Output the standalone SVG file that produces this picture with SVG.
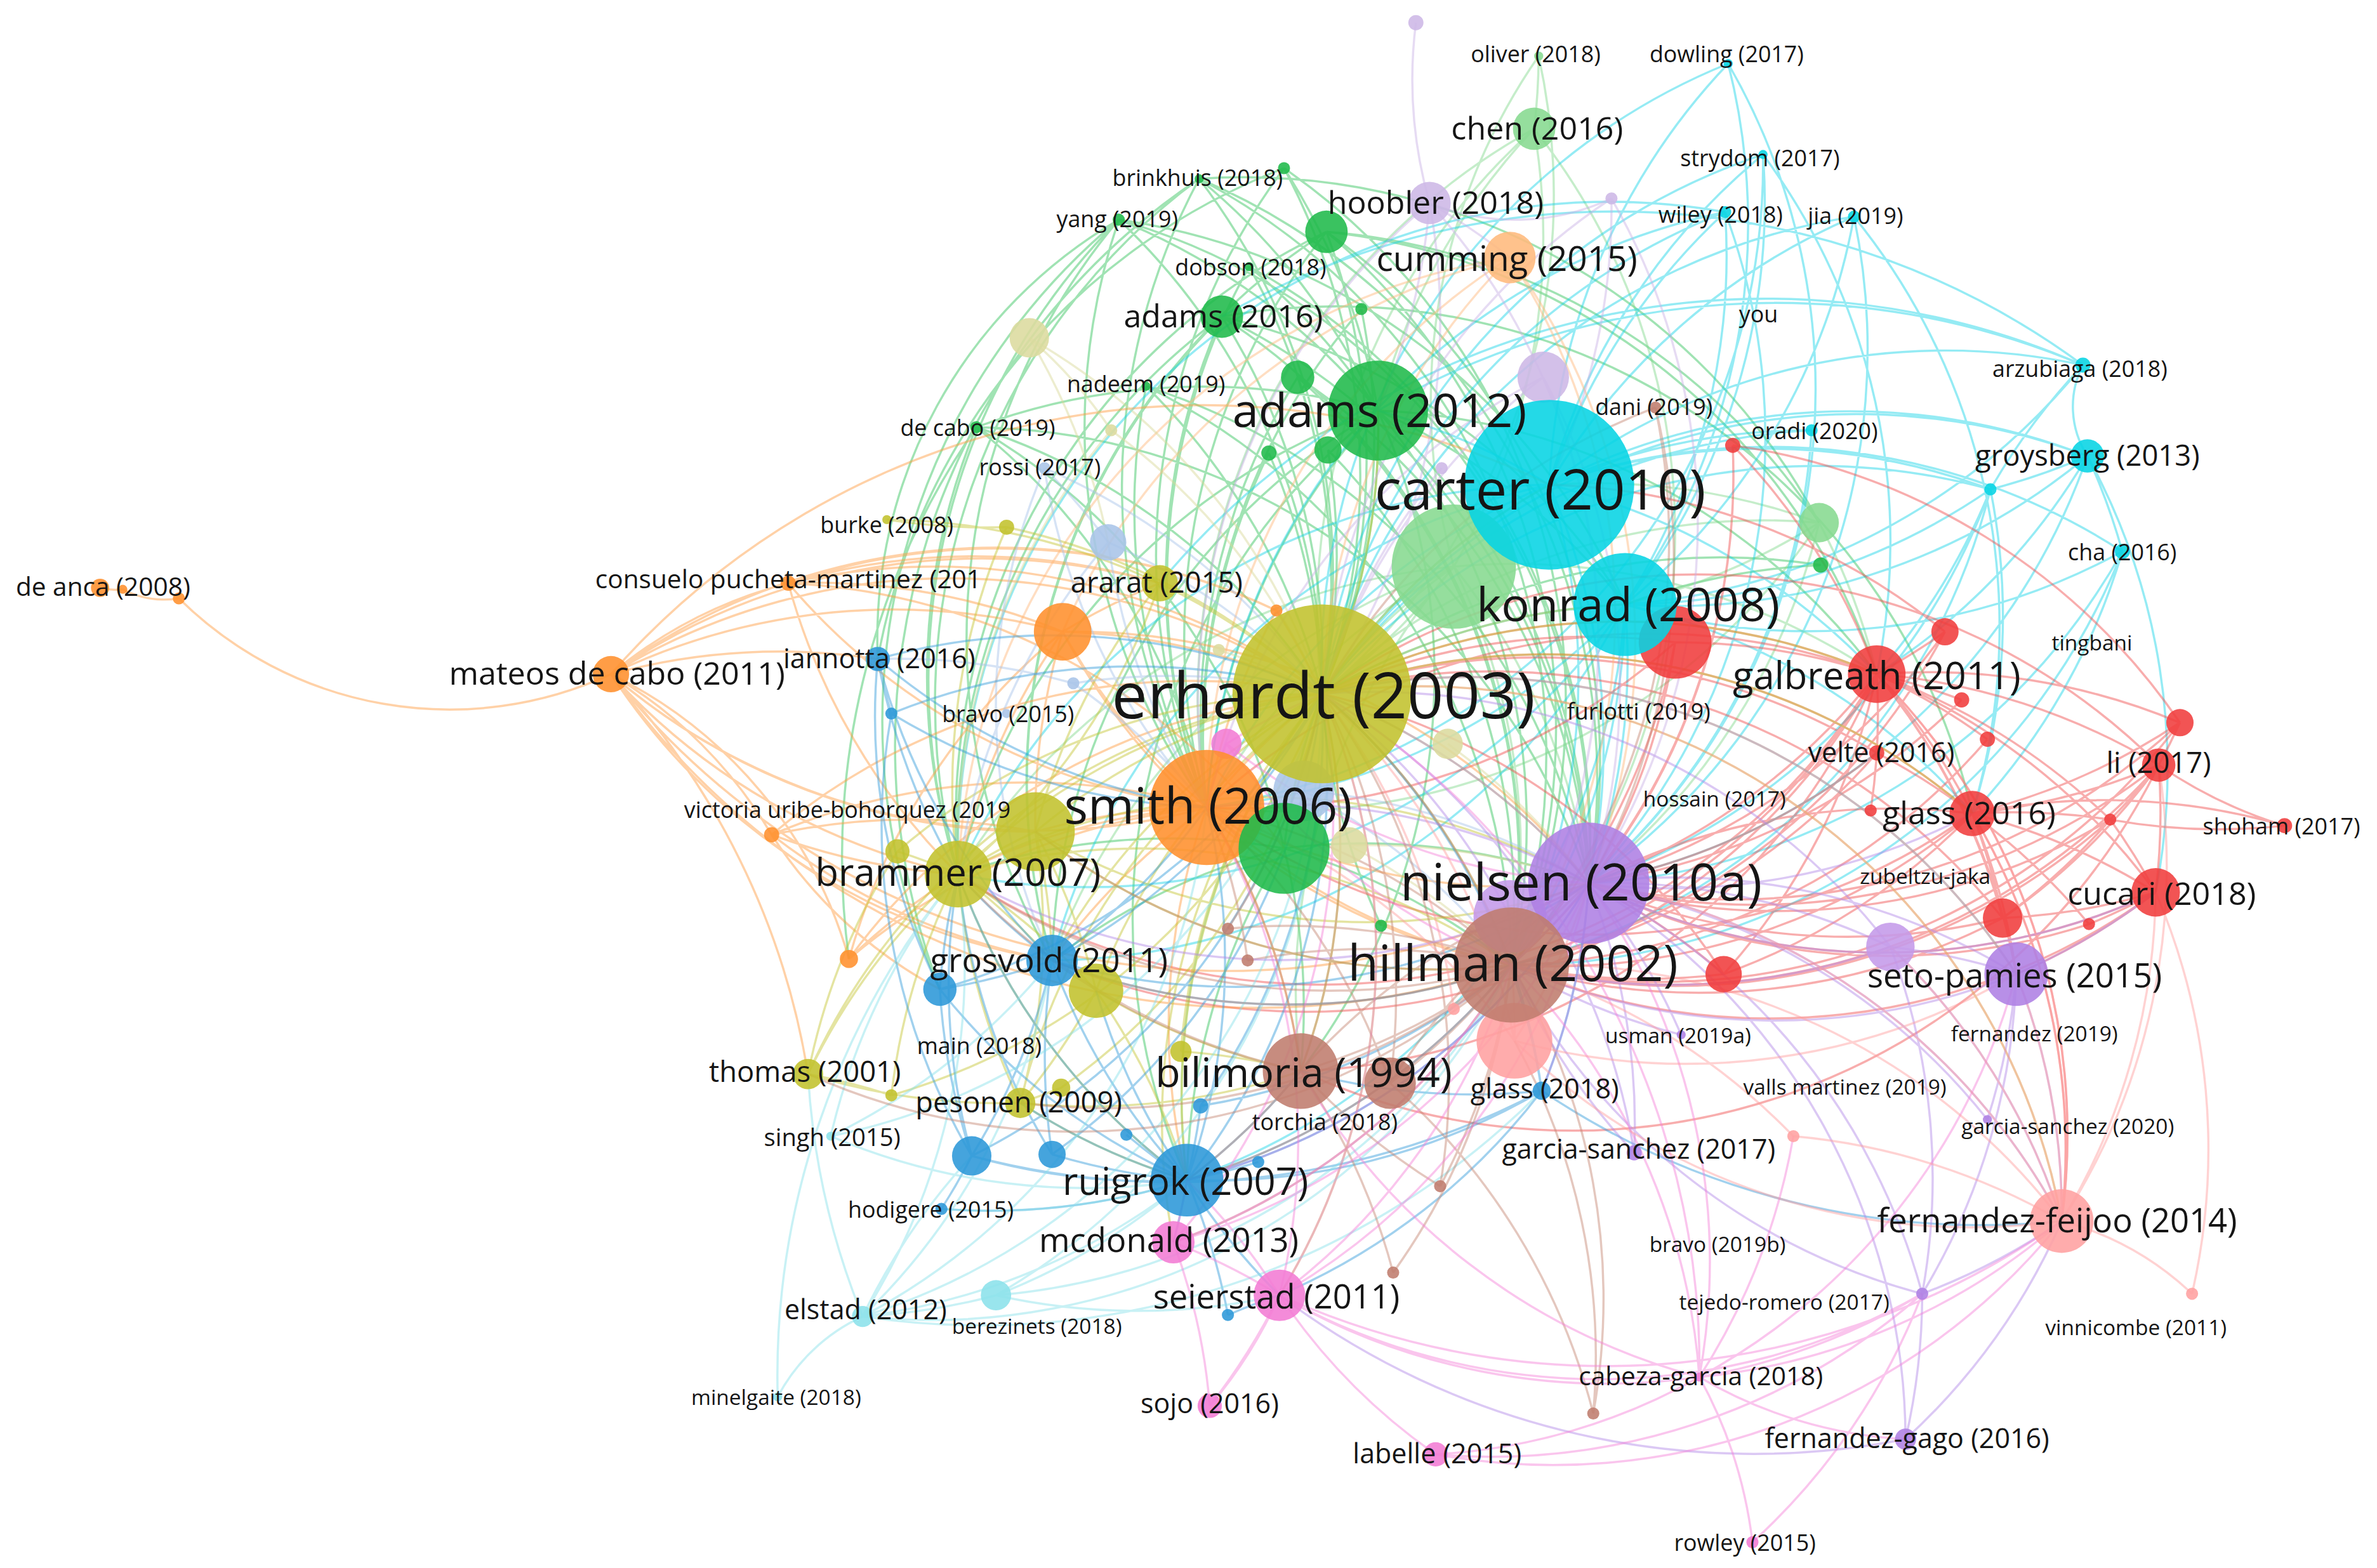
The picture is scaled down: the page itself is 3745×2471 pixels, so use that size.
<svg xmlns="http://www.w3.org/2000/svg" width="3745" height="2471" viewBox="0 0 3745 2471">
<style>
.e path{fill:none;stroke-width:1.45;stroke-opacity:.45}
.nd circle{fill-opacity:.88}
text{font-family:"Open Sans","Noto Sans","DejaVu Sans",sans-serif;fill:#151515;text-anchor:middle;dominant-baseline:central}
.r{fill:#f03c3c}.g{fill:#1fba4a}.c{fill:#06d4e4}.y{fill:#c1c22c}.o{fill:#ff8f2c}.p{fill:#ae7fe4}.b{fill:#bf7c6d}.k{fill:#f27bd4}.u{fill:#2b97d8}.lg{fill:#86d98f}.lp{fill:#cdb7e6}.lo{fill:#ffba7c}.ls{fill:#ffa0a0}.lc{fill:#8be1ea}.ly{fill:#dcdb9e}.lb{fill:#a9c4e8}.pl{fill:#c49ae9}
</style>
<rect width="3745" height="2471" fill="#fff"/>
<g transform="scale(2.3884 2.3874)">
<g id="connectors" class="e">
<path stroke="#2cc257" d="M909 271A430 430 0 0 1 872 458M909 271A430 430 0 0 0 796 533M909 271A430 430 0 0 1 1048 583M909 271A430 430 0 0 1 997 637M909 271A430 430 0 0 0 632 577M909 271A430 430 0 0 0 694 634M909 271A430 430 0 0 0 783 779M909 271A430 430 0 0 1 858 707M909 271A430 430 0 0 1 1238 445M909 271A430 430 0 0 1 1072 399M806 209A430 430 0 0 1 872 458M806 209A430 430 0 0 0 796 533M806 209A430 430 0 0 1 997 637M806 209A430 430 0 0 0 632 577M806 209A430 430 0 0 1 1048 583M806 209A430 430 0 0 1 1072 399M806 209A430 430 0 0 0 694 634M806 209A430 430 0 0 1 1301 537M847 111A430 430 0 0 1 872 458M847 111A430 430 0 0 0 796 533M847 111A430 430 0 0 1 909 271M847 111A430 430 0 0 1 997 637M847 111A430 430 0 0 0 579 435M791 118A430 430 0 0 1 872 458M791 118A430 430 0 0 0 796 533M791 118A430 430 0 0 1 909 271M791 118A430 430 0 0 0 632 577M791 118A430 430 0 0 1 997 637M791 118A430 430 0 0 1 1048 583M791 118A450 450 0 0 0 620 653M791 118A430 430 0 0 1 1200 345M738 145A430 430 0 0 1 872 458M738 145A430 430 0 0 0 796 533M738 145A430 430 0 0 0 632 577M738 145A430 430 0 0 1 909 271M738 145A430 430 0 0 0 694 634M738 145A430 430 0 0 1 1048 583M738 145A320 320 0 0 0 579 435M738 145A430 430 0 0 1 1072 399M738 145A430 430 0 0 0 620 653M644 282A430 430 0 0 1 872 458M644 282A430 430 0 0 1 796 533M644 282A430 430 0 0 0 632 577M644 282A430 430 0 0 1 847 560M644 282A430 430 0 0 1 909 271M644 282A430 430 0 0 1 1048 583M644 282A500 500 0 0 0 560 633M756 255A430 430 0 0 1 872 458M756 255A430 430 0 0 0 796 533M756 255A430 430 0 0 1 997 637M756 255A430 430 0 0 1 1048 583M824 176A430 430 0 0 1 872 458M824 176A430 430 0 0 0 796 533M824 176A430 430 0 0 1 1048 583M824 176A430 430 0 0 1 909 271M875 153A430 430 0 0 1 872 458M875 153A430 430 0 0 0 796 533M875 153A430 430 0 0 1 997 637M875 153A430 430 0 0 1 1048 583M875 153A430 430 0 0 0 632 577M875 153A430 430 0 0 1 1238 445M875 153A430 430 0 0 1 1200 345M875 153A430 430 0 0 0 694 634M856 249A430 430 0 0 1 872 458M856 249A430 430 0 0 0 796 533M856 249A430 430 0 0 1 1048 583M856 249A430 430 0 0 1 997 637M837 299A430 430 0 0 1 872 458M837 299A430 430 0 0 0 796 533M876 297A430 430 0 0 1 872 458M876 297A430 430 0 0 1 997 637M898 204A430 430 0 0 1 872 458M898 204A430 430 0 0 0 796 533M847 560A430 430 0 0 1 872 458M847 560A430 430 0 0 1 997 637M847 560A430 430 0 0 1 1048 583M847 560A430 430 0 0 0 694 634M847 560A430 430 0 0 1 858 707M847 560A430 430 0 0 0 783 779M847 560A430 430 0 0 0 632 577M911 611A430 430 0 0 1 872 458M1201 373A430 430 0 0 0 872 458M1201 373A430 430 0 0 0 1072 399"/>
<path stroke="#7fd88a" d="M959 374A430 430 0 0 1 872 458M959 374A430 430 0 0 0 796 533M959 374A430 430 0 0 1 1048 583M959 374A430 430 0 0 1 997 637M959 374A430 430 0 0 0 632 577M959 374A430 430 0 0 1 1238 445M959 374A430 430 0 0 0 858 707M959 374A430 430 0 0 0 694 634M959 374A430 430 0 0 0 783 779M1012 85A430 430 0 0 0 872 458M1012 85A430 430 0 0 1 959 374M1012 85A430 430 0 0 0 796 533M1012 85A430 430 0 0 0 909 271M1012 85A430 430 0 0 1 997 637M1015 37A430 430 0 0 1 1012 85M1015 37A400 400 0 0 0 959 374M1015 37A430 430 0 0 1 872 458M1200 345A430 430 0 0 0 872 458M1200 345A430 430 0 0 1 1072 399M1200 345A430 430 0 0 0 1022 320M1200 345A430 430 0 0 1 1238 445M1200 345A430 430 0 0 1 796 533M1200 345A430 430 0 0 1 1048 583"/>
<path stroke="#14d2e6" d="M1022 320A430 430 0 0 1 1140 42M1022 320A430 430 0 0 1 1163 102M1022 320A430 430 0 0 1 1138 140M1022 320A430 430 0 0 1 1223 143M1022 320A430 430 0 0 1 1374 241M1022 320A430 430 0 0 1 1377 301M1022 320A430 430 0 0 1 1400 364M1022 320A430 430 0 0 1 1195 284M1022 320A430 430 0 0 1 1313 323M1022 320A430 430 0 0 0 872 458M1022 320A430 430 0 0 0 796 533M1022 320A430 430 0 0 1 1048 583M1022 320A430 430 0 0 1 997 637M1022 320A430 430 0 0 0 909 271M1022 320A430 430 0 0 1 1238 445M1022 320A430 430 0 0 0 632 577M1022 320A430 430 0 0 0 694 634M1072 399A430 430 0 0 0 1140 42M1072 399A430 430 0 0 0 1163 102M1072 399A430 430 0 0 0 1138 140M1072 399A430 430 0 0 0 1223 143M1072 399A430 430 0 0 0 1374 241M1072 399A430 430 0 0 0 1377 301M1072 399A430 430 0 0 0 1400 364M1072 399A430 430 0 0 0 1313 323M1072 399A430 430 0 0 0 872 458M1072 399A430 430 0 0 1 796 533M1072 399A430 430 0 0 1 1048 583M1072 399A430 430 0 0 1 997 637M1072 399A430 430 0 0 1 1301 537M1072 399A430 430 0 0 1 694 634M1072 399A430 430 0 0 1 632 577M1072 399A430 430 0 0 1 783 779M1163 102A430 430 0 0 0 872 458M1163 102A430 430 0 0 1 796 533M1163 102A430 430 0 0 1 1238 445M1138 140A430 430 0 0 0 872 458M1138 140A430 430 0 0 0 796 533M1138 140A430 430 0 0 1 1048 583M1138 140A430 430 0 0 0 632 577M1223 143A430 430 0 0 0 872 458M1223 143A430 430 0 0 1 1048 583M1223 143A430 430 0 0 1 1301 537M1140 42A430 430 0 0 0 872 458M1140 42A430 430 0 0 1 1048 583M1374 241A60 60 0 0 0 1377 301M1374 241A430 430 0 0 0 1313 323M1374 241A520 520 0 0 0 765 385M1374 241A520 520 0 0 0 806 209M1374 241A520 520 0 0 0 909 271M1377 301A430 430 0 0 0 872 458M1377 301A430 430 0 0 1 1048 583M1377 301A430 430 0 0 1 1238 445M1377 301A430 430 0 0 1 1313 323M1377 301A430 430 0 0 1 1400 364M1377 301A430 430 0 0 1 1422 589M1313 323A430 430 0 0 0 872 458M1313 323A430 430 0 0 1 1048 583M1313 323A430 430 0 0 1 1301 537M1313 323A430 430 0 0 1 997 637M1313 323A430 430 0 0 1 1238 445M1400 364A430 430 0 0 1 1048 583M1400 364A430 430 0 0 1 1301 537M1400 364A430 430 0 0 1 997 637M1195 284A430 430 0 0 0 872 458M1195 284A430 430 0 0 1 1048 583"/>
<path stroke="#f04a4a" d="M1238 445A430 430 0 0 0 872 458M1238 445A430 430 0 0 1 1048 583M1238 445A430 430 0 0 1 997 637M1238 445A430 430 0 0 0 796 533M1238 445A430 430 0 0 1 1301 537M1238 445A430 430 0 0 1 1424 505M1238 445A430 430 0 0 1 1422 589M1238 445A430 430 0 0 1 1330 643M1238 445A430 430 0 0 0 1105 424M1238 445A430 430 0 0 0 1283 417M1238 445A430 430 0 0 1 1438 477M1238 445A430 430 0 0 1 1392 541M1238 445A430 430 0 0 1 1311 488M1238 445A430 430 0 0 1 1294 462M1238 445A430 430 0 0 1 1321 606M1238 445A430 430 0 0 1 1234 535M1238 445A430 430 0 0 1 858 707M1238 445A430 430 0 0 1 1360 806M1238 445A430 430 0 0 1 632 577M1238 445A430 430 0 0 1 694 634M1301 537A430 430 0 0 0 1048 583M1301 537A430 430 0 0 1 997 637M1301 537A430 430 0 0 0 872 458M1301 537A430 430 0 0 0 1424 505M1301 537A430 430 0 0 1 1422 589M1301 537A430 430 0 0 1 1321 606M1301 537A430 430 0 0 1 1378 610M1301 537A430 430 0 0 0 1438 477M1301 537A430 430 0 0 1 1392 541M1301 537A430 430 0 0 0 1238 497M1301 537A430 430 0 0 1 1330 643M1301 537A430 430 0 0 1 1360 806M1301 537A430 430 0 0 1 796 533M1424 505A430 430 0 0 1 1422 589M1424 505A430 430 0 0 0 1438 477M1424 505A430 430 0 0 1 1392 541M1424 505A430 430 0 0 1 1048 583M1424 505A430 430 0 0 1 997 637M1424 505A300 300 0 0 0 1507 545M1424 505A430 430 0 0 1 1321 606M1424 505A430 430 0 0 0 872 458M1424 505A430 430 0 0 1 858 707M1422 589A430 430 0 0 1 1048 583M1422 589A430 430 0 0 1 997 637M1422 589A430 430 0 0 1 1321 606M1422 589A430 430 0 0 1 1378 610M1422 589A430 430 0 0 0 1392 541M1422 589A430 430 0 0 1 1330 643M1321 606A430 430 0 0 1 1048 583M1321 606A430 430 0 0 1 997 637M1321 606A430 430 0 0 0 872 458M1321 606A430 430 0 0 0 1392 541M1105 424A430 430 0 0 0 872 458M1105 424A430 430 0 0 1 1048 583M1105 424A430 430 0 0 1 997 637M1105 424A430 430 0 0 1 796 533M1137 643A430 430 0 0 0 1048 583M1137 643A430 430 0 0 1 997 637M1137 643A430 430 0 0 0 872 458M1137 643A430 430 0 0 0 1301 537M1137 643A430 430 0 0 0 1238 445M1143 294A430 430 0 0 1 997 637M1143 294A430 430 0 0 1 1048 583M1143 294A430 430 0 0 1 1238 445M1143 294A430 430 0 0 1 1438 477M1283 417A430 430 0 0 1 997 637M1283 417A430 430 0 0 1 1048 583M1283 417A430 430 0 0 0 1022 320M1438 477A430 430 0 0 1 1048 583M1438 477A430 430 0 0 1 997 637M1507 545A400 400 0 0 1 1392 541M1507 545A430 430 0 0 0 1301 537M1238 497A430 430 0 0 1 1048 583M1238 497A430 430 0 0 1 997 637M1238 497A430 430 0 0 0 872 458M1392 541A430 430 0 0 1 1048 583M1392 541A430 430 0 0 1 997 637M1294 462A430 430 0 0 1 1048 583M1311 488A430 430 0 0 1 997 637M1378 610A430 430 0 0 1 1048 583"/>
<path stroke="#ff9a3c" d="M403 445A430 430 0 0 1 872 458M403 445A430 430 0 0 0 796 533M403 445A430 430 0 0 0 632 577M403 445A430 430 0 0 1 701 417M403 445A430 430 0 0 1 579 435M403 445A300 300 0 0 1 509 551M403 445A300 300 0 0 1 560 633M118 395A254 254 0 0 0 403 445M66 388A40 40 0 0 0 81 389M81 389A60 60 0 0 0 118 395M403 445A520 520 0 0 1 1022 320M403 445A520 520 0 0 0 1048 583M403 445A520 520 0 0 0 997 637M403 445A430 430 0 0 1 765 385M403 445A300 300 0 0 1 520 385M403 445A430 430 0 0 0 683 549M403 445A430 430 0 0 0 694 634M403 445A430 430 0 0 1 842 403M403 445A500 500 0 0 1 533 709M520 385A430 430 0 0 1 872 458M520 385A430 430 0 0 0 796 533M520 385A430 430 0 0 1 701 417M520 385A430 430 0 0 1 765 385M520 385A430 430 0 0 0 632 577M520 385A430 430 0 0 1 847 560M520 385A430 430 0 0 1 842 403M701 417A430 430 0 0 1 872 458M701 417A430 430 0 0 0 796 533M701 417A430 430 0 0 0 632 577M701 417A430 430 0 0 1 765 385M701 417A430 430 0 0 0 683 549M701 417A430 430 0 0 1 1048 583M701 417A430 430 0 0 0 997 637M509 551A430 430 0 0 1 796 533M509 551A430 430 0 0 1 872 458M509 551A430 430 0 0 0 632 577M509 551A430 430 0 0 1 683 549M509 551A430 430 0 0 0 694 634M509 551A300 300 0 0 0 620 653M560 633A430 430 0 0 1 796 533M560 633A430 430 0 0 1 632 577M560 633A430 430 0 0 1 701 417M560 633A430 430 0 0 1 872 458M796 533A430 430 0 0 1 872 458M796 533A430 430 0 0 0 1048 583M796 533A430 430 0 0 0 997 637M796 533A430 430 0 0 0 632 577M796 533A430 430 0 0 0 683 549M796 533A430 430 0 0 0 694 634M796 533A430 430 0 0 1 858 707M796 533A430 430 0 0 0 783 779M842 403A430 430 0 0 1 872 458M842 403A430 430 0 0 0 796 533"/>
<path stroke="#ffb677" d="M996 170A430 430 0 0 0 872 458M996 170A430 430 0 0 0 796 533M996 170A430 430 0 0 1 1048 583M996 170A430 430 0 0 1 997 637M996 170A430 430 0 0 0 632 577M996 170A430 430 0 0 0 701 417"/>
<path stroke="#c3c42e" d="M872 458A430 430 0 0 0 632 577M872 458A430 430 0 0 0 683 549M872 458A430 430 0 0 0 765 385M872 458A430 430 0 0 0 673 728M872 458A430 430 0 0 0 533 709M872 458A430 430 0 0 0 723 654M872 458A430 430 0 0 0 592 562M872 458A430 430 0 0 0 664 348M872 458A430 430 0 0 0 585 343M872 458A430 430 0 0 1 1048 583M872 458A430 430 0 0 1 997 637M872 458A430 430 0 0 1 858 707M872 458A430 430 0 0 0 783 779M872 458A430 430 0 0 0 694 634M872 458A430 430 0 0 1 1022 320M872 458A430 430 0 0 1 1072 399M872 458A430 430 0 0 1 1238 445M872 458A430 430 0 0 1 1301 537M872 458A430 430 0 0 1 1330 643M872 458A430 430 0 0 1 1360 806M872 458A430 430 0 0 0 909 271M872 458A430 430 0 0 0 774 820M872 458A430 430 0 0 1 844 855M872 458A430 430 0 0 0 779 694M632 577A430 430 0 0 1 683 549M632 577A430 430 0 0 0 533 709M632 577A430 430 0 0 0 673 728M632 577A430 430 0 0 1 723 654M632 577A430 430 0 0 0 592 562M632 577A430 430 0 0 1 694 634M632 577A430 430 0 0 0 783 779M632 577A430 430 0 0 0 588 723M632 577A430 430 0 0 1 997 637M632 577A430 430 0 0 1 1048 583M683 549A430 430 0 0 1 694 634M683 549A430 430 0 0 1 673 728M683 549A430 430 0 0 0 997 637M683 549A430 430 0 0 0 1048 583M683 549A430 430 0 0 1 723 654M723 654A430 430 0 0 1 673 728M723 654A430 430 0 0 1 783 779M723 654A430 430 0 0 0 858 707M533 709A430 430 0 0 1 588 723M533 709A430 430 0 0 0 673 728M533 709A430 430 0 0 1 592 562M673 728A430 430 0 0 0 700 718M673 728A430 430 0 0 0 783 779M673 728A430 430 0 0 0 858 707M765 385A430 430 0 0 1 632 577M765 385A430 430 0 0 0 683 549M664 348A430 430 0 0 0 632 577M664 348A430 430 0 0 1 585 343M779 694A430 430 0 0 1 858 707M700 718A430 430 0 0 0 872 458M588 723A430 430 0 0 0 872 458"/>
<path stroke="#d8d794" d="M679 223A300 300 0 0 1 733 284M679 223A430 430 0 0 1 872 458M679 223A430 430 0 0 1 731 358M733 284A430 430 0 0 1 872 458M733 284A430 430 0 0 0 632 577M955 491A430 430 0 0 1 1048 583M890 558A430 430 0 0 1 997 637M890 558A430 430 0 0 1 1048 583M804 429A430 430 0 0 1 872 458"/>
<path stroke="#a3c0e8" d="M731 358A430 430 0 0 1 872 458M731 358A430 430 0 0 0 796 533M731 358A430 430 0 0 0 632 577M689 309A430 430 0 0 1 731 358M689 309A430 430 0 0 1 872 458M689 309A430 430 0 0 0 796 533M860 522A430 430 0 0 1 997 637M860 522A430 430 0 0 1 1048 583M708 451A430 430 0 0 1 872 458M708 451A430 430 0 0 0 579 435M708 451A430 430 0 0 1 796 533M689 309A400 400 0 0 0 694 634"/>
<path stroke="#2e9ad9" d="M783 779A430 430 0 0 1 694 634M783 779A430 430 0 0 1 632 577M783 779A430 430 0 0 1 641 763M783 779A430 430 0 0 1 694 762M783 779A430 430 0 0 1 620 653M783 779A430 430 0 0 0 872 458M783 779A430 430 0 0 0 796 533M783 779A430 430 0 0 0 997 637M783 779A430 430 0 0 0 858 707M783 779A430 430 0 0 0 1048 583M783 779A430 430 0 0 0 1017 720M783 779A430 430 0 0 1 774 820M783 779A430 430 0 0 0 844 855M783 779A430 430 0 0 1 743 749M783 779A430 430 0 0 0 792 730M783 779A430 430 0 0 0 830 767M783 779A430 430 0 0 1 621 798M783 779A430 430 0 0 1 723 654M783 779A430 430 0 0 1 673 728M694 634A430 430 0 0 1 620 653M694 634A430 430 0 0 0 872 458M694 634A430 430 0 0 0 796 533M694 634A430 430 0 0 0 997 637M694 634A430 430 0 0 1 632 577M694 634A430 430 0 0 1 579 435M694 634A430 430 0 0 1 641 763M694 634A430 430 0 0 0 694 762M694 634A430 430 0 0 0 1048 583M641 763A430 430 0 0 1 621 798M641 763A430 430 0 0 1 632 577M641 763A430 430 0 0 1 620 653M641 763A430 430 0 0 0 872 458M620 653A430 430 0 0 1 632 577M620 653A430 430 0 0 0 872 458M694 762A430 430 0 0 0 872 458M694 762A430 430 0 0 1 632 577M579 435A430 430 0 0 1 872 458M579 435A430 430 0 0 0 796 533M579 435A300 300 0 0 0 588 471M579 435A430 430 0 0 0 632 577M579 435A400 400 0 0 0 620 653M588 471A430 430 0 0 0 796 533M588 471A430 430 0 0 1 872 458M588 471A430 430 0 0 0 641 763M1017 720A430 430 0 0 0 997 637M1017 720A430 430 0 0 0 1048 583M1017 720A430 430 0 0 0 872 458M1017 720A430 430 0 0 1 858 707M1017 720A520 520 0 0 1 641 763M1017 720A430 430 0 0 1 844 855M810 868A430 430 0 0 0 783 779M810 868A430 430 0 0 1 844 855M792 730A430 430 0 0 0 872 458M792 730A430 430 0 0 0 997 637M1017 720A520 520 0 0 0 1360 806"/>
<path stroke="#86dfe8" d="M569 869A120 120 0 0 0 513 922M569 869A430 430 0 0 0 783 779M569 869A430 430 0 0 0 694 634M569 869A430 430 0 0 0 632 577M569 869A430 430 0 0 0 872 458M569 869A430 430 0 0 0 657 855M569 869A430 430 0 0 0 796 533M569 869A430 430 0 0 0 997 637M569 869A430 430 0 0 1 641 763M569 869A500 500 0 0 1 533 709M548 750A430 430 0 0 0 783 779M548 750A430 430 0 0 0 694 634M548 750A430 430 0 0 0 872 458M548 750A430 430 0 0 1 632 577M657 855A430 430 0 0 0 783 779M657 855A430 430 0 0 0 997 637M657 855A430 430 0 0 0 844 855M657 855A430 430 0 0 0 872 458M513 922A520 520 0 0 1 632 577M621 798A430 430 0 0 0 783 779M569 869A520 520 0 0 0 1017 720"/>
<path stroke="#c3826f" d="M997 637A430 430 0 0 0 872 458M997 637A430 430 0 0 0 796 533M997 637A430 430 0 0 1 1048 583M997 637A430 430 0 0 1 858 707M997 637A430 430 0 0 1 917 715M997 637A430 430 0 0 1 783 779M997 637A430 430 0 0 1 694 634M997 637A430 430 0 0 1 632 577M997 637A430 430 0 0 1 950 783M997 637A430 430 0 0 1 919 840M997 637A430 430 0 0 1 1051 933M997 637A430 430 0 0 0 823 634M997 637A430 430 0 0 0 810 613M997 637A430 430 0 0 0 1092 269M997 637A430 430 0 0 1 683 549M997 637A430 430 0 0 1 533 709M997 637A430 430 0 0 1 673 728M997 637A430 430 0 0 1 774 820M858 707A430 430 0 0 0 872 458M858 707A430 430 0 0 0 796 533M858 707A430 430 0 0 1 1048 583M858 707A430 430 0 0 1 632 577M858 707A430 430 0 0 1 694 634M858 707A430 430 0 0 1 783 779M858 707A430 430 0 0 1 919 840M858 707A430 430 0 0 0 950 783M917 715A430 430 0 0 0 872 458M917 715A430 430 0 0 1 1048 583M917 715A430 430 0 0 0 796 533M1051 933A430 430 0 0 0 999 687M1051 933A430 430 0 0 0 917 715M919 840A430 430 0 0 0 858 707M1092 269A430 430 0 0 1 1048 583M1092 269A430 430 0 0 0 872 458M950 783A430 430 0 0 0 872 458M810 613A430 430 0 0 0 872 458M823 634A430 430 0 0 0 796 533"/>
<path stroke="#b084e6" d="M1048 583A430 430 0 0 0 872 458M1048 583A430 430 0 0 0 796 533M1048 583A430 430 0 0 1 997 637M1048 583A430 430 0 0 1 1330 643M1048 583A430 430 0 0 1 1247 625M1048 583A430 430 0 0 1 1257 950M1048 583A430 430 0 0 1 1268 854M1048 583A430 430 0 0 1 1360 806M1048 583A430 430 0 0 0 1301 537M1048 583A430 430 0 0 0 1422 589M1048 583A430 430 0 0 1 632 577M1048 583A430 430 0 0 1 783 779M1048 583A430 430 0 0 1 1017 720M1048 583A430 430 0 0 1 1109 683M1048 583A430 430 0 0 1 1078 761M1048 583A430 430 0 0 1 1311 739M1330 643A430 430 0 0 1 997 637M1330 643A430 430 0 0 1 1360 806M1330 643A430 430 0 0 0 1422 589M1330 643A430 430 0 0 0 1247 625M1330 643A430 430 0 0 0 872 458M1330 643A430 430 0 0 1 1311 739M1330 643A430 430 0 0 1 1268 854M1247 625A430 430 0 0 1 997 637M1247 625A430 430 0 0 1 1360 806M1247 625A430 430 0 0 1 1268 854M1247 625A430 430 0 0 0 872 458M1257 950A430 430 0 0 0 1268 854M1257 950A430 430 0 0 0 1360 806M1257 950A520 520 0 0 1 844 855M1268 854A430 430 0 0 0 1360 806M1268 854A430 430 0 0 1 997 637M1078 761A430 430 0 0 1 997 637M1078 761A430 430 0 0 0 872 458M1109 683A430 430 0 0 1 997 637M996 605A430 430 0 0 0 872 458"/>
<path stroke="#c8b0e4" d="M943 134A430 430 0 0 1 872 458M943 134A430 430 0 0 0 796 533M943 134A300 300 0 0 1 934 15M943 134A150 150 0 0 0 1063 131M943 134A430 430 0 0 1 996 170M943 134A430 430 0 0 1 909 271M943 134A430 430 0 0 1 997 637M1063 131A430 430 0 0 1 1022 320M1063 131A430 430 0 0 0 872 458M1063 131A430 430 0 0 1 1048 583M1018 249A430 430 0 0 0 872 458M1018 249A430 430 0 0 0 796 533M1018 249A430 430 0 0 1 1048 583M1018 249A430 430 0 0 1 997 637M951 309A430 430 0 0 0 872 458"/>
<path stroke="#f47fd6" d="M844 855A430 430 0 0 0 774 820M844 855A430 430 0 0 0 783 779M844 855A430 430 0 0 0 997 637M844 855A430 430 0 0 0 1048 583M844 855A430 430 0 0 0 872 458M844 855A300 300 0 0 1 798 928M844 855A400 400 0 0 0 947 960M844 855A430 430 0 0 0 1121 909M844 855A430 430 0 0 0 1268 854M844 855A520 520 0 0 0 1360 806M844 855A430 430 0 0 0 796 533M774 820A430 430 0 0 0 783 779M774 820A430 430 0 0 0 997 637M774 820A430 430 0 0 0 872 458M774 820A400 400 0 0 1 798 928M774 820A430 430 0 0 0 1048 583M1121 909A300 300 0 0 1 1156 1018M1121 909A400 400 0 0 1 947 960M1121 909A430 430 0 0 0 1360 806M1121 909A430 430 0 0 0 1048 583M1121 909A430 430 0 0 0 997 637M1121 909A430 430 0 0 0 1268 854M1121 909A430 430 0 0 0 1330 643M1121 909A430 430 0 0 0 1183 750M1121 909A300 300 0 0 0 1257 950M1121 909A520 520 0 0 0 872 458M1121 909A430 430 0 0 1 858 707M947 960A430 430 0 0 0 1268 854M947 960A430 430 0 0 0 1360 806M1156 1018A430 430 0 0 0 1268 854M809 491A430 430 0 0 1 872 458M809 491A430 430 0 0 0 796 533M809 491A430 430 0 0 0 1048 583M809 491A430 430 0 0 0 997 637M798 928A430 430 0 0 0 844 855"/>
<path stroke="#ff9c9c" d="M999 687A430 430 0 0 0 997 637M999 687A430 430 0 0 0 1048 583M999 687A430 430 0 0 0 872 458M999 687A430 430 0 0 0 1360 806M999 687A430 430 0 0 0 1330 643M999 687A430 430 0 0 0 796 533M1360 806A430 430 0 0 0 1048 583M1360 806A430 430 0 0 0 997 637M1360 806A430 430 0 0 0 1422 589M1360 806A430 430 0 0 0 1330 643M1360 806A200 200 0 0 1 1446 854M1360 806A430 430 0 0 0 1301 537M1360 806A430 430 0 0 0 1247 625M1360 806A430 430 0 0 0 872 458M1360 806A430 430 0 0 0 1238 445M1360 806A430 430 0 0 0 1424 505M1446 854A430 430 0 0 0 1422 589M1183 750A430 430 0 0 0 997 637M1183 750A430 430 0 0 1 1360 806M959 666A430 430 0 0 0 872 458M959 666A430 430 0 0 1 997 637"/>
</g>
<g class="nd">
<g id="n-smallnodes">
<circle class="g" cx="875" cy="153" r="14"/><circle class="g" cx="806" cy="209" r="14"/><circle class="g" cx="856" cy="249" r="11"/><circle class="g" cx="876" cy="297" r="9"/><circle class="g" cx="837" cy="299" r="5"/><circle class="g" cx="898" cy="204" r="4"/><circle class="g" cx="847" cy="111" r="4"/><circle class="g" cx="791" cy="118" r="3"/><circle class="g" cx="738" cy="145" r="4"/><circle class="g" cx="824" cy="176" r="3"/><circle class="g" cx="756" cy="255" r="3"/><circle class="g" cx="644" cy="282" r="4"/><circle class="g" cx="911" cy="611" r="4"/><circle class="g" cx="1201" cy="373" r="5"/>
<circle class="lg" cx="1015" cy="37" r="3"/><circle class="lg" cx="1012" cy="85" r="14"/><circle class="lg" cx="1200" cy="345" r="13"/>
<circle class="lp" cx="943" cy="134" r="14"/><circle class="lp" cx="934" cy="15" r="5"/><circle class="lp" cx="1063" cy="131" r="4"/><circle class="lp" cx="951" cy="309" r="4"/>
<circle class="lo" cx="996" cy="170" r="17"/>
<circle class="c" cx="1140" cy="42" r="3"/><circle class="c" cx="1163" cy="102" r="3"/><circle class="c" cx="1138" cy="140" r="4"/><circle class="c" cx="1223" cy="143" r="4"/><circle class="c" cx="1195" cy="284" r="4"/><circle class="c" cx="1374" cy="241" r="5"/><circle class="c" cx="1377" cy="301" r="11"/><circle class="c" cx="1313" cy="323" r="4"/><circle class="c" cx="1400" cy="364" r="5"/>
<circle class="r" cx="1143" cy="294" r="5"/><circle class="r" cx="1283" cy="417" r="9"/><circle class="r" cx="1294" cy="462" r="5"/><circle class="r" cx="1438" cy="477" r="9"/><circle class="r" cx="1311" cy="488" r="5"/><circle class="r" cx="1238" cy="497" r="5"/><circle class="r" cx="1234" cy="535" r="4"/><circle class="r" cx="1392" cy="541" r="4"/><circle class="r" cx="1507" cy="545" r="5"/><circle class="r" cx="1321" cy="606" r="13"/><circle class="r" cx="1378" cy="610" r="4"/><circle class="r" cx="1137" cy="643" r="12"/>
<circle class="b" cx="1092" cy="269" r="4"/><circle class="b" cx="810" cy="613" r="4"/><circle class="b" cx="823" cy="634" r="4"/><circle class="b" cx="950" cy="783" r="4"/><circle class="b" cx="919" cy="840" r="4"/><circle class="b" cx="1051" cy="933" r="4"/>
<circle class="pl" cx="1247" cy="625" r="16"/><circle class="p" cx="1109" cy="683" r="3"/><circle class="p" cx="1078" cy="761" r="5"/><circle class="p" cx="1311" cy="739" r="3"/><circle class="p" cx="1268" cy="854" r="4"/><circle class="p" cx="1257" cy="950" r="7"/>
<circle class="ls" cx="1446" cy="854" r="4"/><circle class="ls" cx="1183" cy="750" r="4"/><circle class="ls" cx="959" cy="666" r="4"/>
<circle class="k" cx="798" cy="928" r="8"/><circle class="k" cx="947" cy="960" r="8"/><circle class="k" cx="1121" cy="909" r="3"/><circle class="k" cx="1156" cy="1018" r="4"/>
<circle class="u" cx="620" cy="653" r="11"/><circle class="u" cx="641" cy="763" r="13"/><circle class="u" cx="694" cy="762" r="9"/><circle class="u" cx="743" cy="749" r="4"/><circle class="u" cx="792" cy="730" r="5"/><circle class="u" cx="830" cy="767" r="4"/><circle class="u" cx="810" cy="868" r="4"/><circle class="u" cx="621" cy="798" r="4"/><circle class="u" cx="579" cy="435" r="8"/><circle class="u" cx="588" cy="471" r="4"/><circle class="u" cx="1017" cy="720" r="6"/>
<circle class="lc" cx="569" cy="869" r="7"/><circle class="lc" cx="657" cy="855" r="10"/><circle class="lc" cx="548" cy="750" r="3"/><circle class="lc" cx="513" cy="922" r="3"/>
<circle class="y" cx="592" cy="562" r="8"/><circle class="y" cx="533" cy="709" r="10"/><circle class="y" cx="588" cy="723" r="4"/><circle class="y" cx="673" cy="728" r="10"/><circle class="y" cx="700" cy="718" r="6"/><circle class="y" cx="779" cy="694" r="7"/><circle class="y" cx="765" cy="385" r="12"/><circle class="y" cx="664" cy="348" r="5"/><circle class="y" cx="585" cy="343" r="3"/>
<circle class="ly" cx="679" cy="223" r="13"/><circle class="ly" cx="733" cy="284" r="4"/><circle class="ly" cx="804" cy="429" r="4"/>
<circle class="lb" cx="731" cy="358" r="12"/><circle class="lb" cx="689" cy="309" r="4"/><circle class="lb" cx="708" cy="451" r="4"/><circle class="lb" cx="664" cy="471" r="3"/>
<circle class="o" cx="403" cy="445" r="12"/><circle class="o" cx="66" cy="388" r="6"/><circle class="o" cx="81" cy="389" r="3"/><circle class="o" cx="118" cy="395" r="4"/><circle class="o" cx="520" cy="385" r="5"/><circle class="o" cx="701" cy="417" r="19"/><circle class="o" cx="842" cy="403" r="4"/><circle class="o" cx="509" cy="551" r="5"/><circle class="o" cx="560" cy="633" r="6"/>
</g>
<g id="n-olive"><circle class="y" cx="683" cy="549" r="26"/><circle class="y" cx="632" cy="577" r="22"/><circle class="y" cx="723" cy="654" r="18"/></g>
<g id="n-grosvold"><circle class="u" cx="694" cy="634" r="17"/></g>
<g id="n-galbreath"><circle class="r" cx="1238" cy="445" r="19"/></g>
<g id="n-li"><circle class="r" cx="1424" cy="505" r="11"/></g>
<g id="n-glass2016"><circle class="r" cx="1301" cy="537" r="15"/></g>
<g id="n-cucari"><circle class="r" cx="1422" cy="589" r="16"/></g>
<g id="n-seto"><circle class="p" cx="1330" cy="643" r="21"/></g>
<g id="n-feijoo"><circle class="ls" cx="1360" cy="806" r="21"/></g>
<g id="n-mcdonald"><circle class="k" cx="774" cy="820" r="14"/></g>
<g id="n-seierstad"><circle class="k" cx="844" cy="855" r="17"/></g>
<g id="n-lg"><circle class="lg" cx="959" cy="374" r="41"/></g>
<g id="n-lp"><circle class="lp" cx="1018" cy="249" r="17"/></g>
<g id="n-adams2012"><circle class="g" cx="909" cy="271" r="33"/></g>
<g id="n-red"><circle class="r" cx="1105" cy="424" r="24"/></g>
<g id="n-carter"><circle class="c" cx="1022" cy="320" r="56"/></g>
<g id="n-konrad"><circle class="c" cx="1072" cy="399" r="34"/></g>
<g id="n-lb"><circle class="lb" cx="860" cy="522" r="20"/></g>
<g id="n-erhardt"><circle class="y" cx="872" cy="458" r="59"/></g>
<g id="n-pink"><circle class="k" cx="809" cy="491" r="10"/></g>
<g id="n-smith"><circle class="o" cx="796" cy="533" r="38"/></g>
<g id="n-green"><circle class="g" cx="847" cy="560" r="30"/></g>
<g id="n-ly"><circle class="ly" cx="890" cy="558" r="12"/><circle class="ly" cx="955" cy="491" r="10"/></g>
<g id="n-pl"><circle class="pl" cx="996" cy="605" r="24"/></g>
<g id="n-nielsen"><circle class="p" cx="1048" cy="583" r="40"/></g>
<g id="n-salmon"><circle class="ls" cx="999" cy="687" r="25"/></g>
<g id="n-hillman"><circle class="b" cx="997" cy="637" r="38"/></g>
<g id="n-bilimoria"><circle class="b" cx="858" cy="707" r="25"/><circle class="b" cx="917" cy="715" r="17"/></g>
<g id="n-ruigrok"><circle class="u" cx="783" cy="779" r="24"/></g>
</g>
<g id="labels">
<text x="873" y="458" font-size="42">erhardt (2003)</text>
<text x="1016" y="322" font-size="37">carter (2010)</text>
<text x="797" y="531" font-size="33">smith (2006)</text>
<text x="1043" y="581" font-size="34">nielsen (2010a)</text>
<text x="998" y="635" font-size="33">hillman (2002)</text>
<text x="910" y="270" font-size="31">adams (2012)</text>
<text x="1074" y="398" font-size="31">konrad (2008)</text>
<text x="1238" y="445" font-size="25">galbreath (2011)</text>
<text x="632" y="575" font-size="25">brammer (2007)</text>
<text x="692" y="633" font-size="22">grosvold (2011)</text>
<text x="860" y="707" font-size="27">bilimoria (1994)</text>
<text x="782" y="779" font-size="25">ruigrok (2007)</text>
<text x="771" y="818" font-size="22">mcdonald (2013)</text>
<text x="842" y="855" font-size="22">seierstad (2011)</text>
<text x="1357" y="805" font-size="22">fernandez-feijoo (2014)</text>
<text x="1329" y="643" font-size="22">seto-pamies (2015)</text>
<text x="1426" y="589" font-size="21">cucari (2018)</text>
<text x="1299" y="536" font-size="21">glass (2016)</text>
<text x="1424" y="503" font-size="19">li (2017)</text>
<text x="1377" y="300" font-size="19">groysberg (2013)</text>
<text x="407" y="444" font-size="21">mateos de cabo (2011)</text>
<text x="68" y="387" font-size="17">de anca (2008)</text>
<text x="520" y="382" font-size="17">consuelo pucheta-martinez (201</text>
<text x="763" y="384" font-size="19">ararat (2015)</text>
<text x="580" y="434" font-size="18">iannotta (2016)</text>
<text x="665" y="471" font-size="15">bravo (2015)</text>
<text x="585" y="346" font-size="15">burke (2008)</text>
<text x="686" y="308" font-size="15">rossi (2017)</text>
<text x="645" y="282" font-size="15">de cabo (2019)</text>
<text x="756" y="253" font-size="15">nadeem (2019)</text>
<text x="807" y="208" font-size="21">adams (2016)</text>
<text x="825" y="176" font-size="15">dobson (2018)</text>
<text x="737" y="144" font-size="15">yang (2019)</text>
<text x="790" y="117" font-size="15">brinkhuis (2018)</text>
<text x="947" y="133" font-size="21">hoobler (2018)</text>
<text x="1014" y="84" font-size="21">chen (2016)</text>
<text x="1013" y="35" font-size="15">oliver (2018)</text>
<text x="1139" y="35" font-size="15">dowling (2017)</text>
<text x="1161" y="104" font-size="15">strydom (2017)</text>
<text x="1135" y="141" font-size="15">wiley (2018)</text>
<text x="1224" y="142" font-size="15">jia (2019)</text>
<text x="994" y="170" font-size="23">cumming (2015)</text>
<text x="1160" y="207" font-size="15">you</text>
<text x="1091" y="268" font-size="15">dani (2019)</text>
<text x="1197" y="284" font-size="15">oradi (2020)</text>
<text x="1372" y="243" font-size="15">arzubiaga (2018)</text>
<text x="1400" y="364" font-size="15">cha (2016)</text>
<text x="1380" y="424" font-size="14">tingbani</text>
<text x="1081" y="469" font-size="15">furlotti (2019)</text>
<text x="1241" y="496" font-size="18">velte (2016)</text>
<text x="1131" y="527" font-size="14">hossain (2017)</text>
<text x="1505" y="545" font-size="15">shoham (2017)</text>
<text x="1270" y="578" font-size="14">zubeltzu-jaka</text>
<text x="1342" y="682" font-size="14">fernandez (2019)</text>
<text x="1217" y="717" font-size="14">valls martinez (2019)</text>
<text x="1364" y="743" font-size="14">garcia-sanchez (2020)</text>
<text x="1107" y="683" font-size="14">usman (2019a)</text>
<text x="1019" y="718" font-size="18">glass (2018)</text>
<text x="1081" y="758" font-size="18">garcia-sanchez (2017)</text>
<text x="874" y="740" font-size="15">torchia (2018)</text>
<text x="1133" y="821" font-size="14">bravo (2019b)</text>
<text x="1177" y="859" font-size="14">tejedo-romero (2017)</text>
<text x="1409" y="876" font-size="14">vinnicombe (2011)</text>
<text x="1122" y="908" font-size="17">cabeza-garcia (2018)</text>
<text x="1258" y="949" font-size="18">fernandez-gago (2016)</text>
<text x="948" y="959" font-size="18">labelle (2015)</text>
<text x="1151" y="1018" font-size="15">rowley (2015)</text>
<text x="798" y="926" font-size="18">sojo (2016)</text>
<text x="512" y="922" font-size="14">minelgaite (2018)</text>
<text x="571" y="864" font-size="18">elstad (2012)</text>
<text x="684" y="875" font-size="14">berezinets (2018)</text>
<text x="614" y="798" font-size="15">hodigere (2015)</text>
<text x="549" y="750" font-size="16">singh (2015)</text>
<text x="531" y="707" font-size="19">thomas (2001)</text>
<text x="672" y="727" font-size="19">pesonen (2009)</text>
<text x="646" y="690" font-size="15">main (2018)</text>
<text x="559" y="534" font-size="15">victoria uribe-bohorquez (2019</text>
</g>
</g>
</svg>
